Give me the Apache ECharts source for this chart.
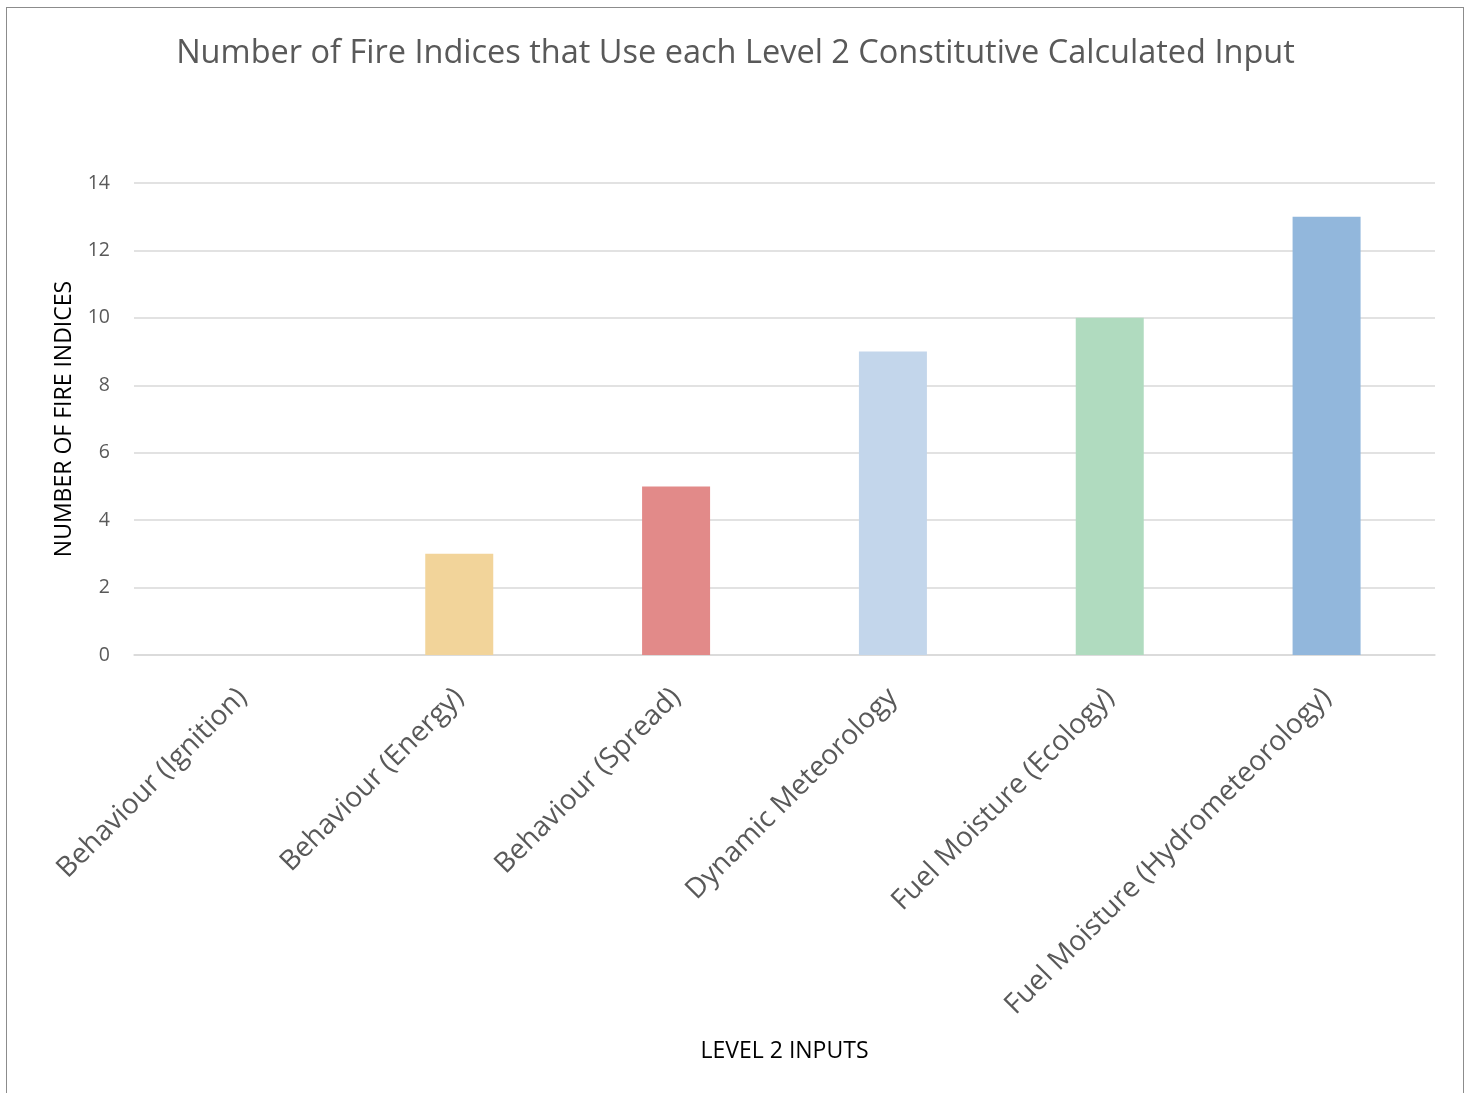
<!DOCTYPE html>
<html><head><meta charset="utf-8">
<script src="https://cdn.jsdelivr.net/npm/echarts@6/dist/echarts.min.js"></script>
<style>
html,body{margin:0;padding:0;background:#fff;}
#frame{position:absolute;left:6px;top:7px;width:1458px;height:1090px;border:1px solid #8c8c8c;box-sizing:border-box;}
#c{position:absolute;left:0;top:0;width:1471px;height:1093px;}
</style></head>
<body>
<div id="frame"></div>
<div id="c"></div>
<script>
const categories = ["Behaviour (Ignition)","Behaviour (Energy)","Behaviour (Spread)","Dynamic Meteorology","Fuel Moisture (Ecology)","Fuel Moisture (Hydrometeorology)"];
const values = [0, 3, 5, 9, 10, 13];
const colors = ["#F2D49A","#F2D49A","#E28A89","#C3D6EB","#B0DBBF","#92B7DC"];
const yTicks = [0,2,4,6,8,10,12,14];

const chart = echarts.init(document.getElementById('c'), null, {renderer:'canvas'});
chart.setOption({
  animation:false,
  title:{text:"Number of Fire Indices that Use each Level 2 Constitutive Calculated Input",left:'center',top:32,
    textStyle:{fontFamily:'Open Sans',fontSize:32.5,fontWeight:'normal',color:'#595959'}},
  grid:{left:134,right:36,top:183,bottom:438},
  xAxis:{type:'category',data:categories,
    axisLine:{show:true,lineStyle:{color:'#d9d9d9',width:1.5}},axisTick:{show:false},
    axisLabel:{rotate:45,interval:0,margin:38,color:'#595959',fontFamily:'Open Sans',fontSize:28},
    name:'LEVEL 2 INPUTS',nameLocation:'middle',nameGap:385,
    nameTextStyle:{color:'#000',fontFamily:'Open Sans',fontSize:23}},
  yAxis:{type:'value',min:0,max:14,interval:2,
    axisLine:{show:false},axisTick:{show:false},
    splitLine:{lineStyle:{color:'#d9d9d9',width:1.5}},
    axisLabel:{color:'#595959',fontFamily:'Open Sans',fontSize:19.5,margin:24,
      formatter:v=>yTicks.includes(v)?String(v):''},
    name:'NUMBER OF FIRE INDICES',nameLocation:'middle',nameGap:58,
    nameTextStyle:{color:'#000',fontFamily:'Open Sans',fontSize:23}},
  series:[{type:'bar',barWidth:68,
    data:values.map((v,i)=>({value:v,itemStyle:{color:colors[i]}}))}]
});
</script>
</body></html>
